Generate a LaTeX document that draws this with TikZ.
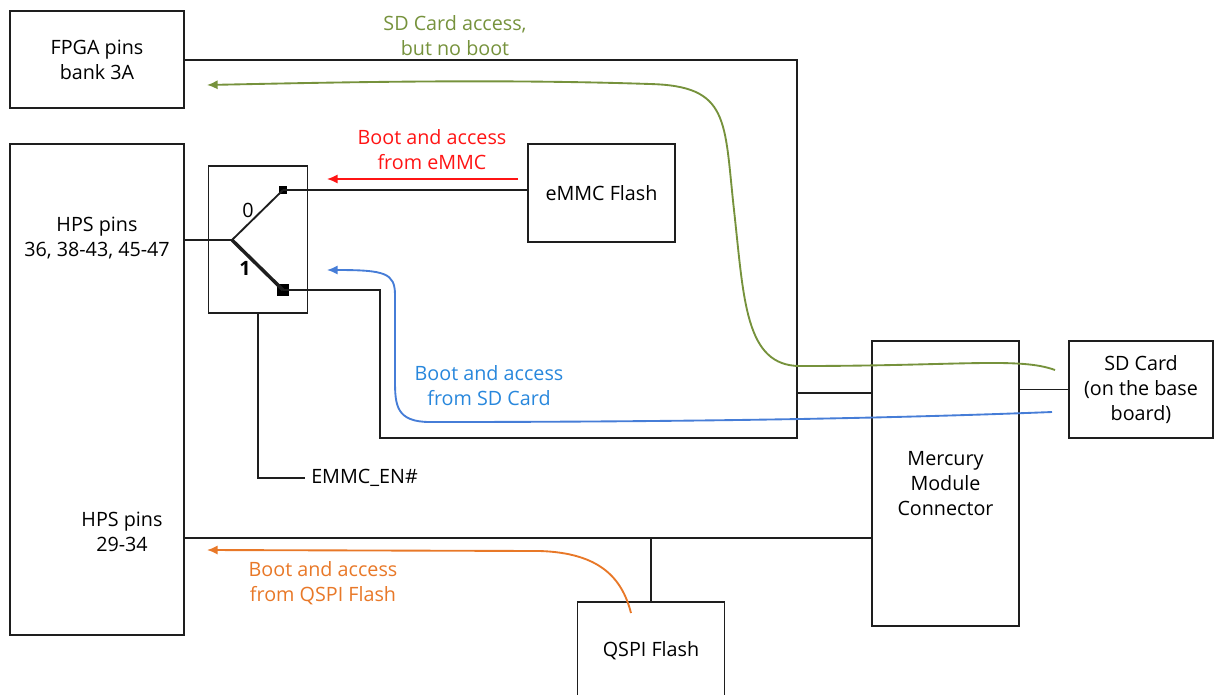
\documentclass[tikz,border=0pt]{standalone}
\usepackage{fontspec}
\setmainfont{Open Sans}
\usetikzlibrary{arrows.meta}
\definecolor{lgreen}{RGB}{118,146,60}
\definecolor{lblue}{RGB}{70,125,215}
\definecolor{tblue}{RGB}{40,135,220}
\definecolor{lorange}{RGB}{232,120,40}
\definecolor{lred}{RGB}{255,20,20}
\definecolor{dline}{RGB}{30,30,30}
\begin{document}
\begin{tikzpicture}[x=0.75pt,y=-0.75pt,
  wire/.style={draw=dline,line width=1.4pt},
  box/.style n args={2}{draw=dline,line width=1.4pt,inner sep=0pt,align=center,
     minimum width=#1*0.75pt,minimum height=#2*0.75pt,font=\txt},
  lbl/.style={align=center,font=\txt,inner sep=0pt},
  flow/.style={line width=1.4pt,-{Latex[length=8pt,width=7pt]}},
  termA/.style={fill=black,inner sep=0pt,minimum size=6pt},
  termB/.style={fill=black,inner sep=0pt,minimum size=8.5pt}]
\newcommand\txt{\fontsize{14.8}{18.75}\selectfont}
\useasboundingbox (0,0) rectangle (1214,694);
% boxes
\node[box={174}{97}] (fpga) at (97,59.5) {FPGA pins\\bank 3A};
\node[box={174}{491}] (hps) at (97,389.5) {};
\node[box={99}{147}] (sw) at (258,239.5) {};
\node[box={147}{98}] (emmc) at (601.5,193) {eMMC Flash};
\node[box={147}{285}] (merc) at (945.5,483.5) {Mercury\\Module\\Connector};
\node[box={144}{97}] (sd) at (1141,389.5) {SD Card\\(on the base\\board)};
\node[box={147}{98}] (qspi) at (651,651) {QSPI Flash};
% hps labels
\node[lbl] (hpsA) at (97,238) {HPS pins\\36, 38-43, 45-47};
\node[lbl] (hpsB) at (122,532) {HPS pins\\29-34};
% switch
\coordinate (piv) at (232,240);
\node[termA] (t0) at (283,190) {};
\node[termB] (t1) at (283,290) {};
\draw[wire] (hps.east |- piv) -- (piv) -- (t0.center);
\draw[draw=dline,line width=2.6pt] (piv) -- (t1.center);
\node[lbl] (l0) at (248,210) {0};
\node[lbl,font=\txt\bfseries] (l1) at (245,268) {1};
\draw[wire] (t0.center) -- (emmc.west |- t0);
% enclosure wiring
\coordinate (ne) at (797,60);
\coordinate (se) at (797,438);
\coordinate (sw1) at (380,438);
\coordinate (nw1) at (380,290);
\coordinate (j1) at (797,393);
\draw[wire] (fpga.east |- ne) -- (ne) -- (se) -- (sw1) -- (nw1) -- (t1.center);
\draw[wire] (j1) -- (merc.west |- j1);
\draw[wire] (merc.east |- sd.west) -- (sd.west);
% EMMC_EN
\coordinate (en) at (305,478);
\draw[wire] (sw.south) |- (en);
\node[lbl,anchor=west] (enl) at (311,478) {EMMC\_EN\#};
% HPS 29-34 bus
\coordinate (h2) at (184,538);
\draw[wire] (h2) -- (merc.west |- h2);
\draw[wire] (qspi.north) -- (qspi.north |- h2);
% flows
\coordinate (gS) at (1055,370);
\coordinate (gE) at (207,85);
\draw[flow,lgreen] (gS) .. controls (1020,357) and (960,366) .. (800,366)
  .. controls (745,366) and (744,300) .. (734,210)
  .. controls (724,120) and (730,86) .. (650,84)
  .. controls (500,79) and (350,82) .. (gE);
\node[lbl,text=lgreen] (gl) at (455,36) {SD Card access,\\but no boot};
\coordinate (rS) at (518,179);
\coordinate (rE) at (327,179);
\draw[flow,lred] (rS) -- (rE);
\node[lbl,text=lred] (rl) at (432,150) {Boot and access\\from eMMC};
\coordinate (bS) at (1052,412);
\coordinate (bE) at (327,270);
\draw[flow,lblue] (bS) .. controls (900,418) and (700,422) .. (430,422)
  .. controls (396,422) and (395,405) .. (395,380) -- (395,295)
  .. controls (395,273) and (385,270) .. (bE);
\node[lbl,text=tblue] (bl) at (489,386) {Boot and access\\from SD Card};
\coordinate (oS) at (631,613);
\coordinate (oE) at (207,550);
\draw[flow,lorange] (oS) .. controls (622,578) and (600,553) .. (540,551) -- (oE);
\node[lbl,text=lorange] (ol) at (323,583) {Boot and access\\from QSPI Flash};
\end{tikzpicture}
\end{document}
